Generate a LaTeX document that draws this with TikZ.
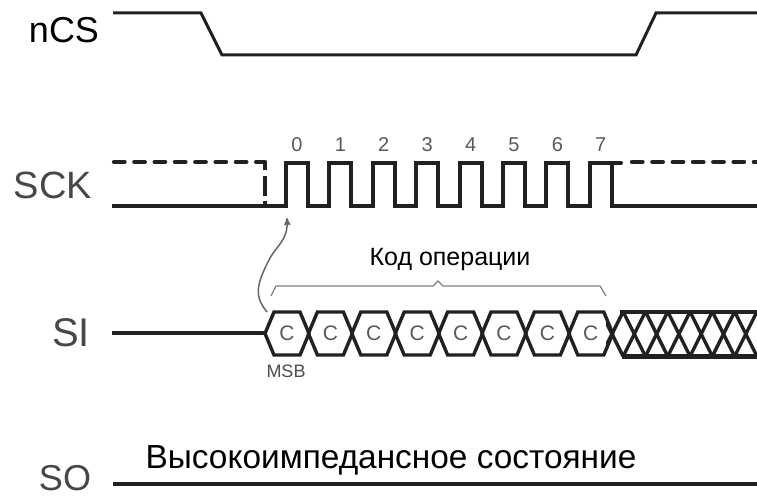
\documentclass[tikz,border=0pt]{standalone}
\usepackage{fontspec}
\setmainfont{Liberation Sans}
\usetikzlibrary{arrows}
\definecolor{wavegray}{gray}{0.13}
\begin{document}
\begin{tikzpicture}[x=1pt, y=-1pt, >=stealth']
    \tikzstyle{wave}=[line width=4pt, draw=wavegray, line join=miter]
    \tikzstyle{dashwave}=[line width=4.2pt, draw=wavegray, line cap=round, dash pattern=on 10.6pt off 9.7pt]
    \tikzstyle{hexwave}=[line width=3.4pt, draw=wavegray, line join=miter]
    \tikzstyle{thinwave}=[line width=1.2pt, draw=black!60]
    \tikzstyle{signame}=[text=black!72, font=\fontsize{38}{38}\selectfont]
    \tikzstyle{bitnum}=[text=black!65, font=\fontsize{20}{20}\selectfont]
    \useasboundingbox (0,0) rectangle (757,497);
    % signal names
    \node[signame, text=black, font=\fontsize{36}{36}\selectfont, anchor=base]    (ncs) at (64,42.5)	{nCS};
    \node[signame]    (sck) at (53,185)	{SCK};
    \node[signame, font=\fontsize{40}{40}\selectfont]    (si)  at (71,333)	{SI};
    \node[signame, font=\fontsize{36}{36}\selectfont, inner sep=0pt, anchor=base]    (so)  at (65,490)	{SO};
    % nCS
    \draw[wave, line width=3pt] (113,13) -- (201,13) -- (222,55) -- (636,55) -- (656,13) -- (757,13);
    % SCK
    \draw[dashwave] (114,162) -- (265,162);
    \draw[wave, line width=3.6pt, dash pattern=on 8pt off 6pt on 20pt off 5pt on 5pt off 3pt] (265,162) -- (265,206);
    \draw[dashwave] (632,162) -- (757,162);
    \draw[wave, line cap=round] (608,163) -- (621,163);
    \draw[wave] (112,206) -- (286,206)
      \foreach \i in {0,...,7} {
        -- ({286+43.4*\i},163) -- ({308+43.4*\i},163) -- ({308+43.4*\i},206)
        \ifnum\i<7 -- ({329.4+43.4*\i},206) \fi
      } -- (757,206);
    \foreach \i in {0,...,7}
      \node[bitnum] (num\i) at ({297+43.4*\i},145) {\i};
    % arrow from first bit
    \draw[->, thinwave, line width=1.5pt] (267,312) .. controls (254,296) and (256,285) .. (270,258)
      .. controls (278,244) and (288,240) .. (287,218);
    % brace
    \draw[thinwave, black!50] (271,296) -- (276,286) -- (433,286) -- (438,281) -- (443,286) -- (600,286) -- (606,296);
    \node[font=\fontsize{25}{25}\selectfont, anchor=base] (opcode) at (450,265) {Код операции};
    % SI
    \draw[wave] (112,333) -- (265,333);
    \foreach \i in {0,...,7} {
      \draw[hexwave]
        ({265+43.4*\i},333.5) -- ({274+43.4*\i},312) -- ({300+43.4*\i},312) -- ({309+43.4*\i},333.5)
        -- ({300+43.4*\i},355) -- ({274+43.4*\i},355) -- cycle;
      \node[text=black!65, font=\fontsize{21}{21}\selectfont] (c\i) at ({287+43.4*\i},333) {C};
    }
    % don't care
    \begin{scope}
      \clip (606,305) rectangle (757,362);
      \foreach \i in {0,...,6} {
        \draw[hexwave] ({601+22.3*\i},312) -- ({623+22.3*\i},356);
        \draw[hexwave] ({623+22.3*\i},312) -- ({601+22.3*\i},356);
      }
    \end{scope}
    \draw[line width=3.8pt, draw=wavegray] (620,312) -- (757,312);
    \draw[line width=5pt, draw=wavegray] (622,356) -- (757,356);
    \node[font=\fontsize{18}{18}\selectfont, text=black!70] (msb) at (286,371) {MSB};
    % SO
    \node[font=\fontsize{33.4}{33.4}\selectfont, anchor=base] (hiz) at (391,468) {Высокоимпедансное состояние};
    \draw[wave] (113,484) -- (757,484);
\end{tikzpicture}
\end{document}
